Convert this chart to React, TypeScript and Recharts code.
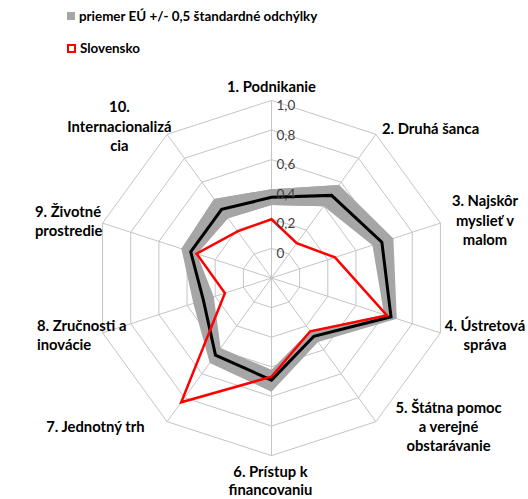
import React from 'react';
import { RadarChart, Radar, PolarGrid, PolarAngleAxis, PolarRadiusAxis } from 'recharts';

// categories (axes), clockwise from the top
const categories = [
  '1. Podnikanie',
  '2. Druhá šanca',
  '3. Najskôr myslieť v malom',
  '4. Ústretová správa',
  '5. Štátna pomoc a verejné obstarávanie',
  '6. Prístup k financovaniu',
  '7. Jednotný trh',
  '8. Zručnosti a inovácie',
  '9. Životné prostredie',
  '10. Internacionalizácia',
];

// how the labels wrap in the original
const labelLines = [
  ['1. Podnikanie'],
  ['2. Druhá šanca'],
  ['3. Najskôr', 'myslieť v', 'malom'],
  ['4. Ústretová', 'správa'],
  ['5. Štátna pomoc', 'a verejné', 'obstarávanie'],
  ['6. Prístup k', 'financovaniu'],
  ['7. Jednotný trh'],
  ['8. Zručnosti a', 'inovácie'],
  ['9. Životné', 'prostredie'],
  ['10.', 'Internacionalizá', 'cia'],
];

const euMean = [0.345, 0.49, 0.584, 0.649, 0.287, 0.49, 0.444, 0.284, 0.374, 0.373];
const euLow = [0.293, 0.4, 0.517, 0.6, 0.24, 0.42, 0.385, 0.21, 0.33, 0.3];
const euHigh = [0.4, 0.577, 0.666, 0.69, 0.335, 0.568, 0.51, 0.355, 0.44, 0.46];
const slovensko = [0.197, 0.09, 0.251, 0.62, 0.245, 0.467, 0.838, 0.131, 0.332, 0.19];

const radiusTicks = [-0.2, 0, 0.2, 0.4, 0.6, 0.8, 1];

const data = categories.map((name, i) => ({
  name,
  idx: i,
  band: [euLow[i], euHigh[i]],
  mean: euMean[i],
  sk: slovensko[i],
}));

// placement of each label block relative to the recharts tick point: dx, dy, anchor, line height
const labelPlace: [number, number, string, number][] = [
  [0, -5, 'middle', 19.5],
  [50, 1, 'middle', 19.5],
  [37, 0, 'middle', 19.5],
  [37, 0, 'middle', 19.5],
  [68, -1, 'middle', 19],
  [-1, 17.5, 'middle', 18],
  [-67, -1, 'middle', 19.5],
  [-58, 0, 'start', 19.5],
  [-60, 1, 'start', 19.5],
  [-43, -1, 'middle', 19.5],
];

const FONT = 'Lato, "Open Sans", sans-serif';

const fmt = (v: number) => (v === 0 ? '0' : v.toFixed(1).replace('.', ','));

const AngleTick = (props: any) => {
  const { x, y, payload } = props;
  const i = categories.indexOf(payload.value);
  const lines = labelLines[i] || [payload.value];
  const [dx, dy, anchor, lh] = labelPlace[i] || [0, 0, 'middle', 19.5];
  const top = y + dy - ((lines.length - 1) * lh) / 2;
  return (
    <text textAnchor={anchor} fontFamily={FONT} fontWeight={700} fontSize={14.8} fill="#000">
      {lines.map((l, k) => (
        <tspan key={k} x={x + dx} y={top + k * lh + 5}>
          {l}
        </tspan>
      ))}
    </text>
  );
};

const RadiusTick = (props: any) => {
  const { x, y, payload } = props;
  if (payload.value < -0.1) return <g />;
  return (
    <text x={x + 5} y={y + 9.5} textAnchor="start" fontFamily={FONT} fontSize={13.5} fill="#404040">
      {fmt(payload.value)}
    </text>
  );
};

// the range polygon leaves the wedge between the last and first axis open,
// so a second piece covers that part
const wrapBand = (d: any) => (d.idx <= 1 || d.idx >= 8 ? d.band : null);

export default function App() {
  return (
    <div style={{ position: 'relative', width: 528, height: 499, background: '#fff' }}>
      <style>{'body{margin:0}'}</style>
      <RadarChart
        width={528}
        height={499}
        data={data}
        cx={271.5}
        cy={278}
        outerRadius={177.6}
        margin={{ top: 0, right: 0, bottom: 0, left: 0 }}
      >
        <PolarGrid gridType="polygon" stroke="#c4c4c4" />
        <PolarAngleAxis dataKey="name" tick={AngleTick} tickLine={false} axisLine={false} />
        <PolarRadiusAxis
          type="number"
          angle={90}
          domain={[-0.2, 1]}
          ticks={radiusTicks}
          tick={RadiusTick}
          axisLine={false}
          tickLine={false}
        />
        <Radar dataKey="band" stroke="none" fill="#a6a6a6" fillOpacity={1} dot={false} isAnimationActive={false} />
        <Radar
          dataKey={wrapBand}
          connectNulls
          stroke="none"
          fill="#a6a6a6"
          fillOpacity={1}
          dot={false}
          isAnimationActive={false}
        />
        <Radar dataKey="mean" stroke="#000" strokeWidth={3} fill="none" dot={false} isAnimationActive={false} />
        <Radar dataKey="sk" stroke="#ff0000" strokeWidth={2.5} fill="none" dot={false} isAnimationActive={false} />
      </RadarChart>
      <div
        style={{
          position: 'absolute',
          left: 67,
          top: 8,
          fontFamily: FONT,
          fontWeight: 700,
          fontSize: 13.4,
          color: '#000',
          lineHeight: '16px',
        }}
      >
        <div style={{ display: 'flex', alignItems: 'center' }}>
          <span style={{ display: 'inline-block', width: 8, height: 8, background: '#a6a6a6', marginRight: 4 }} />
          priemer EÚ +/- 0,5 štandardné odchýlky
        </div>
        <div style={{ display: 'flex', alignItems: 'center', marginTop: 16 }}>
          <span
            style={{
              display: 'inline-block',
              width: 5,
              height: 5,
              border: '2px solid #ff0000',
              marginRight: 4,
              background: '#fff',
            }}
          />
          Slovensko
        </div>
      </div>
    </div>
  );
}
